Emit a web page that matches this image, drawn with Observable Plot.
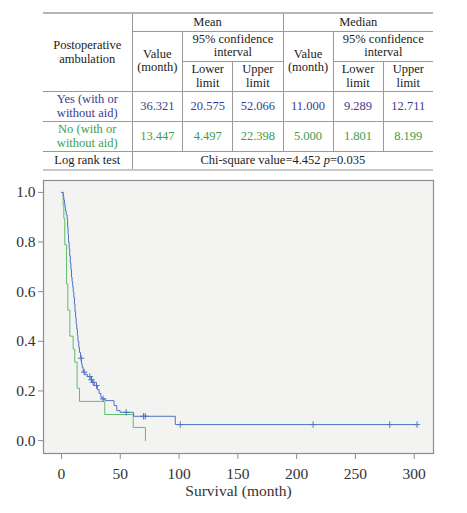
<!DOCTYPE html>
<html>
<head>
<meta charset="utf-8">
<script src="https://cdn.jsdelivr.net/npm/d3@7"></script>
<script src="https://cdn.jsdelivr.net/npm/@observablehq/plot@0.6"></script>
<style>
  html, body { margin: 0; padding: 0; background: #fff; }
  body { width: 467px; height: 513px; position: relative; overflow: hidden; font-family: "Liberation Serif", "DejaVu Serif", serif; }
  #tbl { position: absolute; left: 43px; top: 12px; width: 390px; }
  table { border-collapse: collapse; width: 390px; table-layout: fixed; font-size: 12.5px; color: #222; font-family: "Liberation Serif", serif; }
  td { border: 1px solid #9a9a9a; text-align: center; vertical-align: middle; padding: 0; line-height: 13.5px; overflow: visible; white-space: nowrap; }
  tr:first-child td { border-top: 2px solid #b5b5b5; }
  tr:last-child td { border-bottom: 2px solid #c8c8c8; }
  td:first-child { border-left: none; }
  td.last { border-right: none; }
  .blue { color: #3c3c8e; }
  .green { color: #3e9e4c; }
  #chart { position: absolute; left: 0; top: 172px; }
</style>
</head>
<body>
<div id="tbl"></div>
<div id="chart"></div>
<script>
// ---- Table data ----
const groupLabel = "Postoperative ambulation";
const statGroups = ["Mean", "Median"];
const valueHeader = "Value (month)";
const ciHeader = "95% confidence interval";
const limitHeaders = ["Lower limit", "Upper limit"];
const rowLabels = ["Yes (with or without aid)", "No (with or without aid)"];
const yesValues = ["36.321", "20.575", "52.066", "11.000", "9.289", "12.711"];
const noValues = ["13.447", "4.497", "22.398", "5.000", "1.801", "8.199"];
const testLabel = "Log rank test";
const testText = "Chi-square value=4.452 <i>p</i>=0.035";

// ---- Survival curve data (months, cumulative survival) ----
const yesTimes = [0, 1.5, 2, 2.5, 3, 3.5, 4, 4.8, 5.2, 5.6, 6, 6.5, 7, 7.5, 8, 8.5, 9, 9.5, 10, 10.5, 11, 11.5, 12, 12.5, 13, 13.5, 14, 14.7, 15.3, 16.2, 17, 17.6, 18.4, 20, 22, 25, 26.2, 28, 30.5, 32, 33.5, 34.6, 37.1, 44.7, 47, 49.9, 61.3, 96.8, 302.4];
const yesSurv  = [1, 0.985, 0.97, 0.954, 0.94, 0.925, 0.91, 0.895, 0.86, 0.83, 0.8, 0.773, 0.745, 0.715, 0.69, 0.659, 0.64, 0.62, 0.6, 0.578, 0.55, 0.52, 0.495, 0.47, 0.45, 0.425, 0.4, 0.376, 0.355, 0.332, 0.31, 0.295, 0.276, 0.266, 0.258, 0.245, 0.235, 0.222, 0.205, 0.19, 0.175, 0.168, 0.161, 0.141, 0.121, 0.114, 0.098, 0.0645, 0.0645];
const yesCensorTimes = [16.7, 19.3, 24.1, 25.5, 26.9, 29.8, 35.4, 55, 69.8, 71.2, 101, 214, 279.2, 302.4];

const noTimes = [0, 1.4, 2.0, 2.8, 4.3, 5.4, 7.1, 9.9, 11.3, 13.3, 15.3, 36.8, 61, 71.4];
const noSurv  = [1, 0.947, 0.895, 0.789, 0.632, 0.526, 0.421, 0.368, 0.316, 0.211, 0.158, 0.105, 0.053, 0];

const xTicks = [0, 50, 100, 150, 200, 250, 300];
const yTicks = [0, 0.2, 0.4, 0.6, 0.8, 1.0];
const xLabel = "Survival (month)";

// ---- Build table ----
(function () {
  let h = "<table><colgroup><col style='width:89px'><col style='width:50.7px'><col style='width:50px'><col style='width:50.3px'><col style='width:50px'><col style='width:50px'><col style='width:50px'></colgroup>";
  h += `<tr style="height:18px"><td rowspan="3">${groupLabel.replace(" ", "<br>")}</td><td colspan="3">${statGroups[0]}</td><td colspan="3" class="last">${statGroups[1]}</td></tr>`;
  h += `<tr style="height:30.7px"><td rowspan="2">${valueHeader.replace(" ", "<br>")}</td><td colspan="2">${ciHeader.replace("confidence ", "confidence<br>")}</td><td rowspan="2">${valueHeader.replace(" ", "<br>")}</td><td colspan="2" class="last">${ciHeader.replace("confidence ", "confidence<br>")}</td></tr>`;
  h += `<tr style="height:30px">${limitHeaders.map(l => `<td>${l.replace(" ", "<br>")}</td>`).join("")}${limitHeaders.map((l, i) => `<td${i === 1 ? ' class="last"' : ''}>${l.replace(" ", "<br>")}</td>`).join("")}</tr>`;
  const row = (lab, vals, cls) => `<tr style="height:30px" class="${cls}"><td>${lab.replace(" or ", " or<br>")}</td>${vals.map((v, i) => `<td${i === 5 ? ' class="last"' : ''}>${v}</td>`).join("")}</tr>`;
  h += row(rowLabels[0], yesValues, "blue");
  h += row(rowLabels[1], noValues, "green");
  h += `<tr style="height:18.3px"><td>${testLabel}</td><td colspan="6" class="last">${testText}</td></tr>`;
  h += "</table>";
  document.getElementById("tbl").innerHTML = h;
})();

// ---- Build chart ----
const yesData = yesTimes.map((t, i) => ({t, s: yesSurv[i]}));
const noData = noTimes.map((t, i) => ({t, s: noSurv[i]}));
const survAt = (times, surv, t) => { let s = surv[0]; for (let i = 0; i < times.length; i++) if (times[i] <= t) s = surv[i]; return s; };
const yesCensor = yesCensorTimes.map(t => ({t, s: survAt(yesTimes, yesSurv, t)}));

const blue = "#5072c4";
const green = "#5fbd6d";

const chart = Plot.plot({
  width: 467,
  height: 341,
  marginTop: 8,
  marginBottom: 60,
  marginLeft: 43,
  marginRight: 34,
  style: { fontFamily: "Liberation Serif, DejaVu Serif, serif", fontSize: "15.5px", color: "#333", background: "transparent" },
  x: { domain: [-15.3, 316.4] },
  y: { domain: [-0.052, 1.048] },
  marks: [
    Plot.frame({ fill: "#f3f3f2", stroke: "#8c8c8c", strokeWidth: 1.2 }),
    Plot.line(noData, { x: "t", y: "s", curve: "step-after", stroke: green, strokeWidth: 1 }),
    Plot.line(yesData, { x: "t", y: "s", curve: "step-after", stroke: blue, strokeWidth: 1 }),
    Plot.dot(yesCensor, { x: "t", y: "s", symbol: "plus", r: 2.2, stroke: blue, strokeWidth: 1 }),
    Plot.axisX({ ticks: xTicks, tickSize: 6, tickPadding: 8, stroke: "#8c8c8c", label: null, fill: "#333", fontSize: 15.5 }),
    Plot.axisY({ ticks: yTicks, tickSize: 5, tickPadding: 3, tickFormat: d3.format(".1f"), stroke: "#8c8c8c", label: null, fill: "#333", fontSize: 15.5 }),
    Plot.text([xLabel], { frameAnchor: "bottom", dy: 38, text: d => d, fontSize: 15.5, fill: "#333", lineAnchor: "middle" })
  ]
});
document.getElementById("chart").appendChild(chart);
</script>
</body>
</html>
